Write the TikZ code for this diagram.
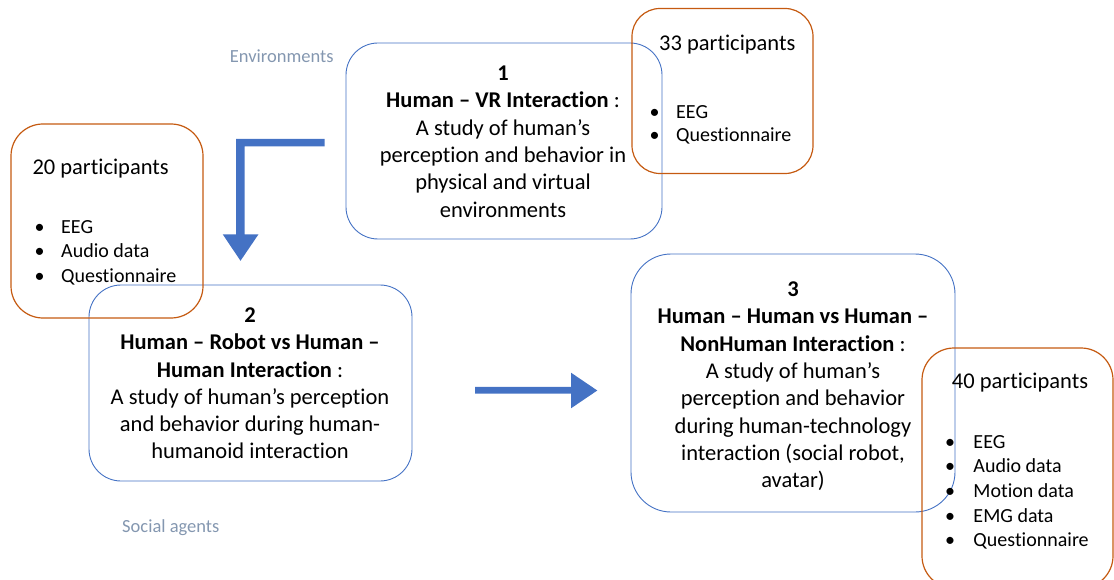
\documentclass[tikz,border=0pt]{standalone}
\usepackage{fontspec}
\setmainfont{Carlito}[Ligatures=NoCommon]
\definecolor{boxblue}{HTML}{4472C4}
\definecolor{boxorange}{HTML}{C55A11}
\definecolor{labelgray}{HTML}{8497B0}
\newcommand{\bul}[1][26.7pt]{\makebox[#1][l]{•}}
\tikzset{
  bluebox/.style={draw=boxblue, line width=0.9pt, inner sep=0pt},
  orangebox/.style={draw=boxorange, line width=1.2pt, inner sep=0pt},
  maintext/.style={align=center, inner sep=0pt, font=\fontsize{22.5}{27.3}\selectfont},
  headtext/.style={anchor=base west, inner sep=0pt, font=\fontsize{22.5}{27}\selectfont},
  bullettext/.style={anchor=base west, inner sep=0pt, font=\fontsize{20}{24.5}\selectfont},
  sidelabel/.style={anchor=base west, inner sep=0pt, text=labelgray, font=\fontsize{18.5}{22}\selectfont},
  blockarrow/.style={fill=boxblue, draw=none}
}
\begin{document}
\begin{tikzpicture}[x=1pt,y=-1pt]
\useasboundingbox (0,0) rectangle (1114,580);
\clip (0,0) rectangle (1114,580);

% blue study boxes
\node[bluebox, rounded corners=32pt, minimum width=316pt, minimum height=196pt] (box1) at (504,141) {};
\node[bluebox, rounded corners=32pt, minimum width=323pt, minimum height=196pt] (box2) at (250.5,383) {};
\node[bluebox, rounded corners=40pt, minimum width=324pt, minimum height=258pt] (box3) at (793,383) {};

% orange participant boxes
\node[orangebox, rounded corners=28pt, minimum width=181pt, minimum height=165pt] (org1) at (722.5,91) {};
\node[orangebox, rounded corners=32pt, minimum width=192pt, minimum height=194pt] (org2) at (107,221) {};
\node[orangebox, rounded corners=32pt, minimum width=191pt, minimum height=240pt] (org3) at (1017.5,468) {};

% study texts
\node[maintext] (t1) at (503,141.6) {\textbf{1}\\\textbf{Human – VR Interaction} :\\A study of human’s\\perception and behavior in\\physical and virtual\\environments};
\node[maintext] (t2) at (250,383.4) {\textbf{2}\\\textbf{Human – Robot vs Human –}\\\textbf{Human Interaction} :\\A study of human’s perception\\and behavior during human-\\humanoid interaction};
\node[maintext] (t3) at (793,386.3) {\textbf{3}\\\textbf{Human – Human vs Human –}\\\textbf{NonHuman Interaction} :\\A study of human’s\\perception and behavior\\during human-technology\\interaction (social robot,\\avatar)};

% participant texts
\node[headtext] (p1) at (659,51) {33 participants};
\foreach \txt [count=\i] in {EEG, Questionnaire}
  \node[bullettext] (l1-\i) at (649.3,{118.3+23.6*(\i-1)}) {\bul\txt};
\node[headtext] (p2) at (32.3,174.3) {20 participants};
\foreach \txt [count=\i] in {EEG, Audio data, Questionnaire}
  \node[bullettext] (l2-\i) at (34.3,{233.3+24.7*(\i-1)}) {\bul\txt};
\node[headtext] (p3) at (951.7,388.3) {40 participants};
\foreach \txt [count=\i] in {EEG, Audio data, Motion data, EMG data, Questionnaire}
  \node[bullettext] (l3-\i) at (945,{448.3+24.6*(\i-1)}) {\bul[28.3pt]\txt};

% side labels
\node[sidelabel] (env) at (229.7,62.3) {Environments};
\node[sidelabel] (soc) at (122,532.7) {Social agents};

% block arrows
\fill[blockarrow] (324.5,139) -- (236,139) -- (236,234.3) -- (222.7,234.3) -- (240.5,260.8) -- (258.5,234.3) -- (244.5,234.3) -- (244.5,146.5) -- (324.5,146.5) -- cycle;
\fill[blockarrow] (475,386.8) -- (571,386.8) -- (571,372.7) -- (597.3,390.5) -- (571,408.3) -- (571,393.5) -- (475,393.5) -- cycle;
\end{tikzpicture}
\end{document}
